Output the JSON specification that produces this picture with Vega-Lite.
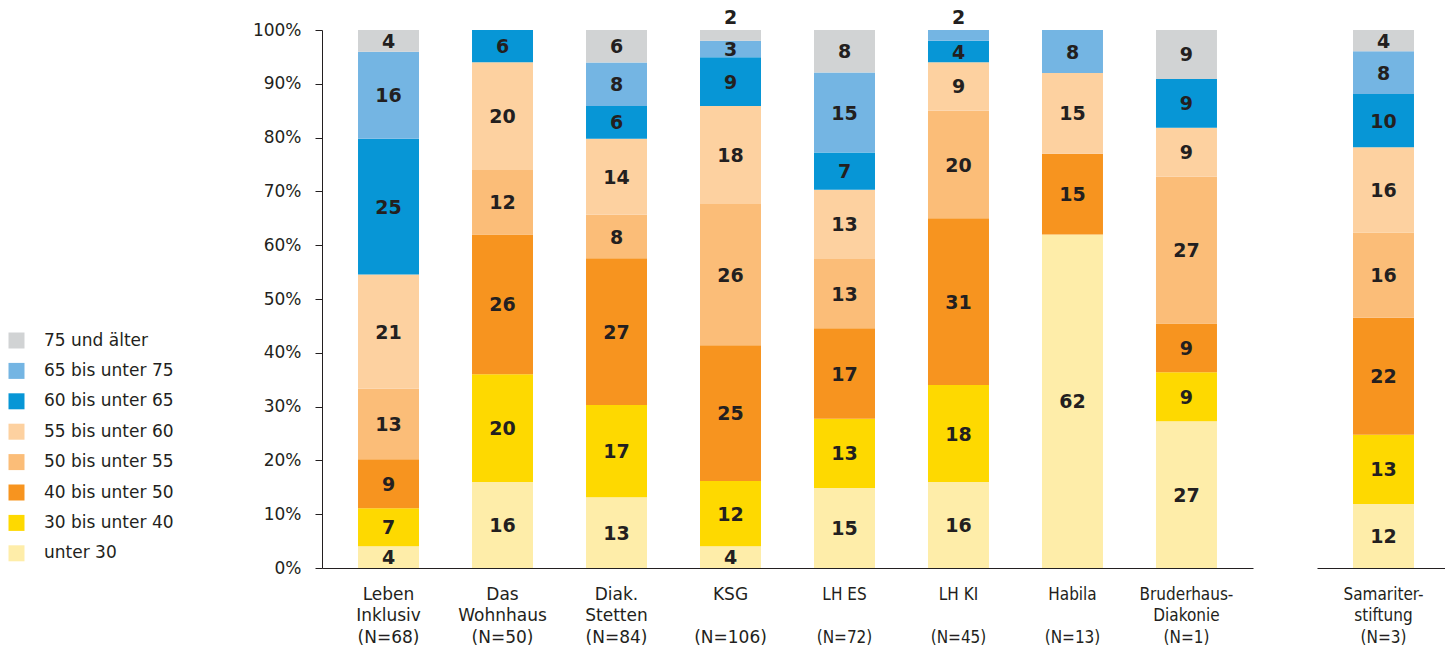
{
  "$schema": "https://vega.github.io/schema/vega-lite/v6.json",
  "background": "white",
  "padding": {"left": 8, "top": 9, "right": 5, "bottom": 5},
  "spacing": 64,
  "config": {
    "view": {"stroke": null},
    "font": "DejaVu Sans",
    "axis": {"labelFont": "DejaVu Sans", "labelColor": "#231f20", "labelFontSize": 17, "titleFont": "DejaVu Sans"},
    "legend": {"labelFont": "DejaVu Sans"}
  },
  "datasets": {
    "main": [
      {"inst": "Leben|Inklusiv|(N=68)", "age": "unter 30", "k": 1, "v": 4},
      {"inst": "Leben|Inklusiv|(N=68)", "age": "30 bis unter 40", "k": 2, "v": 7},
      {"inst": "Leben|Inklusiv|(N=68)", "age": "40 bis unter 50", "k": 3, "v": 9},
      {"inst": "Leben|Inklusiv|(N=68)", "age": "50 bis unter 55", "k": 4, "v": 13},
      {"inst": "Leben|Inklusiv|(N=68)", "age": "55 bis unter 60", "k": 5, "v": 21},
      {"inst": "Leben|Inklusiv|(N=68)", "age": "60 bis unter 65", "k": 6, "v": 25},
      {"inst": "Leben|Inklusiv|(N=68)", "age": "65 bis unter 75", "k": 7, "v": 16},
      {"inst": "Leben|Inklusiv|(N=68)", "age": "75 und älter", "k": 8, "v": 4},
      {"inst": "Das|Wohnhaus|(N=50)", "age": "unter 30", "k": 1, "v": 16},
      {"inst": "Das|Wohnhaus|(N=50)", "age": "30 bis unter 40", "k": 2, "v": 20},
      {"inst": "Das|Wohnhaus|(N=50)", "age": "40 bis unter 50", "k": 3, "v": 26},
      {"inst": "Das|Wohnhaus|(N=50)", "age": "50 bis unter 55", "k": 4, "v": 12},
      {"inst": "Das|Wohnhaus|(N=50)", "age": "55 bis unter 60", "k": 5, "v": 20},
      {"inst": "Das|Wohnhaus|(N=50)", "age": "60 bis unter 65", "k": 6, "v": 6},
      {"inst": "Diak.|Stetten|(N=84)", "age": "unter 30", "k": 1, "v": 13},
      {"inst": "Diak.|Stetten|(N=84)", "age": "30 bis unter 40", "k": 2, "v": 17},
      {"inst": "Diak.|Stetten|(N=84)", "age": "40 bis unter 50", "k": 3, "v": 27},
      {"inst": "Diak.|Stetten|(N=84)", "age": "50 bis unter 55", "k": 4, "v": 8},
      {"inst": "Diak.|Stetten|(N=84)", "age": "55 bis unter 60", "k": 5, "v": 14},
      {"inst": "Diak.|Stetten|(N=84)", "age": "60 bis unter 65", "k": 6, "v": 6},
      {"inst": "Diak.|Stetten|(N=84)", "age": "65 bis unter 75", "k": 7, "v": 8},
      {"inst": "Diak.|Stetten|(N=84)", "age": "75 und älter", "k": 8, "v": 6},
      {"inst": "KSG||(N=106)", "age": "unter 30", "k": 1, "v": 4},
      {"inst": "KSG||(N=106)", "age": "30 bis unter 40", "k": 2, "v": 12},
      {"inst": "KSG||(N=106)", "age": "40 bis unter 50", "k": 3, "v": 25},
      {"inst": "KSG||(N=106)", "age": "50 bis unter 55", "k": 4, "v": 26},
      {"inst": "KSG||(N=106)", "age": "55 bis unter 60", "k": 5, "v": 18},
      {"inst": "KSG||(N=106)", "age": "60 bis unter 65", "k": 6, "v": 9},
      {"inst": "KSG||(N=106)", "age": "65 bis unter 75", "k": 7, "v": 3},
      {"inst": "KSG||(N=106)", "age": "75 und älter", "k": 8, "v": 2},
      {"inst": "LH ES||(N=72)", "age": "unter 30", "k": 1, "v": 15},
      {"inst": "LH ES||(N=72)", "age": "30 bis unter 40", "k": 2, "v": 13},
      {"inst": "LH ES||(N=72)", "age": "40 bis unter 50", "k": 3, "v": 17},
      {"inst": "LH ES||(N=72)", "age": "50 bis unter 55", "k": 4, "v": 13},
      {"inst": "LH ES||(N=72)", "age": "55 bis unter 60", "k": 5, "v": 13},
      {"inst": "LH ES||(N=72)", "age": "60 bis unter 65", "k": 6, "v": 7},
      {"inst": "LH ES||(N=72)", "age": "65 bis unter 75", "k": 7, "v": 15},
      {"inst": "LH ES||(N=72)", "age": "75 und älter", "k": 8, "v": 8},
      {"inst": "LH KI||(N=45)", "age": "unter 30", "k": 1, "v": 16},
      {"inst": "LH KI||(N=45)", "age": "30 bis unter 40", "k": 2, "v": 18},
      {"inst": "LH KI||(N=45)", "age": "40 bis unter 50", "k": 3, "v": 31},
      {"inst": "LH KI||(N=45)", "age": "50 bis unter 55", "k": 4, "v": 20},
      {"inst": "LH KI||(N=45)", "age": "55 bis unter 60", "k": 5, "v": 9},
      {"inst": "LH KI||(N=45)", "age": "60 bis unter 65", "k": 6, "v": 4},
      {"inst": "LH KI||(N=45)", "age": "65 bis unter 75", "k": 7, "v": 2},
      {"inst": "Habila||(N=13)", "age": "unter 30", "k": 1, "v": 62},
      {"inst": "Habila||(N=13)", "age": "40 bis unter 50", "k": 3, "v": 15},
      {"inst": "Habila||(N=13)", "age": "55 bis unter 60", "k": 5, "v": 15},
      {"inst": "Habila||(N=13)", "age": "65 bis unter 75", "k": 7, "v": 8},
      {"inst": "Bruderhaus-|Diakonie|(N=1)", "age": "unter 30", "k": 1, "v": 27},
      {"inst": "Bruderhaus-|Diakonie|(N=1)", "age": "30 bis unter 40", "k": 2, "v": 9},
      {"inst": "Bruderhaus-|Diakonie|(N=1)", "age": "40 bis unter 50", "k": 3, "v": 9},
      {"inst": "Bruderhaus-|Diakonie|(N=1)", "age": "50 bis unter 55", "k": 4, "v": 27},
      {"inst": "Bruderhaus-|Diakonie|(N=1)", "age": "55 bis unter 60", "k": 5, "v": 9},
      {"inst": "Bruderhaus-|Diakonie|(N=1)", "age": "60 bis unter 65", "k": 6, "v": 9},
      {"inst": "Bruderhaus-|Diakonie|(N=1)", "age": "75 und älter", "k": 8, "v": 9}
    ],
    "sam": [
      {"inst": "Samariter-|stiftung|(N=3)", "age": "unter 30", "k": 1, "v": 12},
      {"inst": "Samariter-|stiftung|(N=3)", "age": "30 bis unter 40", "k": 2, "v": 13},
      {"inst": "Samariter-|stiftung|(N=3)", "age": "40 bis unter 50", "k": 3, "v": 22},
      {"inst": "Samariter-|stiftung|(N=3)", "age": "50 bis unter 55", "k": 4, "v": 16},
      {"inst": "Samariter-|stiftung|(N=3)", "age": "55 bis unter 60", "k": 5, "v": 16},
      {"inst": "Samariter-|stiftung|(N=3)", "age": "60 bis unter 65", "k": 6, "v": 10},
      {"inst": "Samariter-|stiftung|(N=3)", "age": "65 bis unter 75", "k": 7, "v": 8},
      {"inst": "Samariter-|stiftung|(N=3)", "age": "75 und älter", "k": 8, "v": 4}
    ]
  },
  "resolve": {"scale": {"x": "independent", "y": "independent", "color": "independent"}},
  "hconcat": [
    {
      "width": 931,
      "height": 538,
      "data": {"name": "main"},
      "transform": [
        {"stack": "v", "groupby": ["inst"], "sort": [{"field": "k", "order": "ascending"}], "offset": "normalize", "as": ["y0", "y1"]}
      ],
      "resolve": {"axis": {"x": "independent"}},
      "layer": [
        {
          "mark": {"type": "bar"},
          "encoding": {
            "x": {
              "field": "inst", "type": "nominal", "title": null,
              "scale": {
                "domain": ["Leben|Inklusiv|(N=68)", "Das|Wohnhaus|(N=50)", "Diak.|Stetten|(N=84)", "KSG||(N=106)", "LH ES||(N=72)", "LH KI||(N=45)", "Habila||(N=13)", "Bruderhaus-|Diakonie|(N=1)"],
                "paddingInner": 0.465, "paddingOuter": 0.316
              },
              "axis": {
                "orient": "bottom", "labelAngle": 0, "ticks": false, "domain": true, "domainColor": "#231f20", "labelPadding": 18, "labelBaseline": "top", "labelLineHeight": 21.5, "labelLimit": 300,
                "labelExpr": "slice(split(datum.label, '|'), 0, 2)",
                "labelFont": {"condition": {"test": "indexof(['LH ES||(N=72)', 'LH KI||(N=45)', 'Habila||(N=13)', 'Bruderhaus-|Diakonie|(N=1)'], datum.value) >= 0", "value": "'Liberation Sans Narrow', 'DejaVu Sans Condensed', 'Liberation Sans'"}, "value": "DejaVu Sans"}
              }
            },
            "y": {"field": "y0", "type": "quantitative", "scale": {"domain": [0, 1], "nice": false},
              "axis": {"title": null, "format": ".0%", "values": [0, 0.1, 0.2, 0.3, 0.4, 0.5, 0.6, 0.7, 0.8, 0.9, 1], "grid": false, "domainColor": "#231f20", "tickColor": "#231f20", "tickSize": 7, "labelPadding": 14}},
            "y2": {"field": "y1"},
            "color": {
              "field": "age", "type": "nominal",
              "scale": {
                "domain": ["75 und älter", "65 bis unter 75", "60 bis unter 65", "55 bis unter 60", "50 bis unter 55", "40 bis unter 50", "30 bis unter 40", "unter 30"],
                "range": ["#d1d3d4", "#74b5e3", "#0796d6", "#fdd1a0", "#fbbd78", "#f7941f", "#fed900", "#feeda9"]
              },
              "legend": {"orient": "none", "legendX": -314, "legendY": 302, "title": null, "symbolType": "square", "symbolSize": 256, "symbolStrokeWidth": 0, "labelFontSize": 17, "labelColor": "#231f20", "labelOffset": 19, "rowPadding": 12.4}
            }
          }
        },
        {
          "transform": [
            {"filter": "datum.v > 2"},
            {"fold": ["y0", "y1"], "as": ["edge", "pos"]},
            {"aggregate": [{"op": "mean", "field": "pos", "as": "mid"}], "groupby": ["inst", "age", "v"]}
          ],
          "mark": {"type": "text", "font": "DejaVu Sans", "fontWeight": "bold", "fontSize": 19, "color": "#231f20", "baseline": "middle", "dy": 1},
          "encoding": {
            "x": {
              "field": "inst", "type": "nominal", "title": null,
              "axis": {
                "orient": "bottom", "labelAngle": 0, "ticks": false, "domain": false, "labelPadding": 61, "labelBaseline": "top", "labelLimit": 300,
                "labelExpr": "split(datum.label, '|')[2]",
                "labelFont": {"condition": {"test": "indexof(['LH ES||(N=72)', 'LH KI||(N=45)', 'Habila||(N=13)', 'Bruderhaus-|Diakonie|(N=1)'], datum.value) >= 0", "value": "'Liberation Sans Narrow', 'DejaVu Sans Condensed', 'Liberation Sans'"}, "value": "DejaVu Sans"}
              }
            },
            "y": {"field": "mid", "type": "quantitative"},
            "text": {"field": "v", "type": "quantitative"}
          }
        },
        {
          "transform": [{"filter": "datum.v <= 2"}],
          "mark": {"type": "text", "font": "DejaVu Sans", "fontWeight": "bold", "fontSize": 19, "color": "#231f20", "baseline": "alphabetic", "dy": -6},
          "encoding": {
            "x": {"field": "inst", "type": "nominal", "axis": null},
            "y": {"field": "y1", "type": "quantitative"},
            "text": {"field": "v", "type": "quantitative"}
          }
        }
      ]
    },
    {
      "width": 133,
      "height": 538,
      "data": {"name": "sam"},
      "transform": [
        {"stack": "v", "groupby": ["inst"], "sort": [{"field": "k", "order": "ascending"}], "offset": "normalize", "as": ["y0", "y1"]}
      ],
      "encoding": {
        "x": {
          "field": "inst", "type": "nominal", "title": null,
          "scale": {"domain": ["Samariter-|stiftung|(N=3)"], "paddingInner": 0.465, "paddingOuter": 0.316},
          "axis": {"labelAngle": 0, "ticks": false, "domain": true, "domainColor": "#231f20", "labelPadding": 18, "labelBaseline": "top", "labelLineHeight": 21.5, "labelLimit": 300, "labelExpr": "split(datum.label, '|')", "labelFont": "'Liberation Sans Narrow', 'DejaVu Sans Condensed', 'Liberation Sans'"}
        }
      },
      "layer": [
        {
          "mark": {"type": "bar"},
          "encoding": {
            "y": {"field": "y0", "type": "quantitative", "scale": {"domain": [0, 1], "nice": false}, "axis": null},
            "y2": {"field": "y1"},
            "color": {
              "field": "age", "type": "nominal",
              "scale": {
                "domain": ["75 und älter", "65 bis unter 75", "60 bis unter 65", "55 bis unter 60", "50 bis unter 55", "40 bis unter 50", "30 bis unter 40", "unter 30"],
                "range": ["#d1d3d4", "#74b5e3", "#0796d6", "#fdd1a0", "#fbbd78", "#f7941f", "#fed900", "#feeda9"]
              },
              "legend": null
            }
          }
        },
        {
          "transform": [
            {"fold": ["y0", "y1"], "as": ["edge", "pos"]},
            {"aggregate": [{"op": "mean", "field": "pos", "as": "mid"}], "groupby": ["inst", "age", "v"]}
          ],
          "mark": {"type": "text", "font": "DejaVu Sans", "fontWeight": "bold", "fontSize": 19, "color": "#231f20", "baseline": "middle", "dy": 1},
          "encoding": {
            "y": {"field": "mid", "type": "quantitative"},
            "text": {"field": "v", "type": "quantitative"}
          }
        }
      ]
    }
  ]
}
